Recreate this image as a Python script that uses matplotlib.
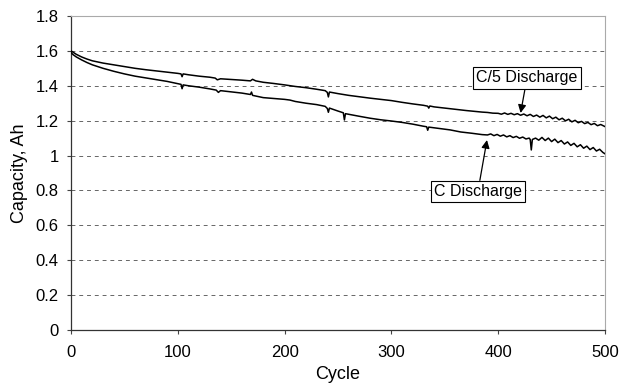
import matplotlib
matplotlib.use("Agg")
import matplotlib.pyplot as plt

plt.rcParams.update({
    "font.family": ["Liberation Sans", "DejaVu Sans"],
    "font.size": 12,
})

# Capacity fade, C/5 discharge
c5_cycle = [0, 2, 5, 10, 15, 20, 30, 40, 50, 60, 70, 80, 90, 100, 103, 104, 105,
            110, 120, 130, 135, 137, 140, 150, 160, 168, 170, 173, 180, 190, 200,
            210, 220, 230, 238, 240, 241, 242, 250, 260, 270, 280, 290, 300, 310,
            320, 330, 334, 335, 336, 340, 350, 360, 370, 380, 385, 390, 395, 400,
            403, 406, 409, 412, 415, 418, 421, 424, 427, 430, 433, 436, 439, 442,
            445, 448, 451, 454, 457, 460, 463, 466, 469, 472, 475, 478, 481, 484,
            487, 490, 493, 496, 500]
c5_cap = [1.600, 1.592, 1.580, 1.565, 1.553, 1.543, 1.530, 1.520, 1.510, 1.500,
          1.492, 1.485, 1.478, 1.471, 1.468, 1.452, 1.468, 1.463, 1.455, 1.449,
          1.444, 1.434, 1.440, 1.436, 1.432, 1.428, 1.437, 1.428, 1.420, 1.413,
          1.405, 1.396, 1.389, 1.380, 1.372, 1.362, 1.336, 1.364, 1.355, 1.345,
          1.337, 1.329, 1.322, 1.315, 1.305, 1.296, 1.288, 1.283, 1.272, 1.284,
          1.279, 1.272, 1.265, 1.258, 1.252, 1.249, 1.247, 1.243, 1.242, 1.237,
          1.244, 1.236, 1.242, 1.234, 1.240, 1.231, 1.238, 1.228, 1.236, 1.224,
          1.232, 1.220, 1.230, 1.216, 1.226, 1.211, 1.220, 1.205, 1.214, 1.199,
          1.208, 1.193, 1.202, 1.188, 1.196, 1.183, 1.190, 1.177, 1.184, 1.171,
          1.178, 1.166]

# Capacity fade, C discharge
c1_cycle = [0, 2, 5, 10, 15, 20, 30, 40, 50, 60, 70, 80, 90, 100, 103, 104, 105,
            110, 120, 130, 136, 138, 140, 150, 160, 168, 169, 170, 180, 190, 200,
            205, 210, 220, 230, 238, 240, 241, 242, 250, 255, 256, 257, 270, 280,
            290, 300, 310, 320, 330, 333, 334, 335, 345, 355, 365, 375, 385, 390,
            393, 396, 399, 402, 405, 408, 411, 414, 417, 420, 423, 426, 429, 430,
            431, 432, 435, 438, 441, 444, 447, 450, 453, 456, 459, 462, 465, 468,
            471, 474, 477, 480, 483, 486, 489, 492, 495, 498, 500]
c1_cap = [1.590, 1.578, 1.565, 1.548, 1.533, 1.520, 1.500, 1.483, 1.468, 1.455,
          1.445, 1.435, 1.425, 1.412, 1.408, 1.383, 1.405, 1.400, 1.392, 1.382,
          1.375, 1.362, 1.372, 1.365, 1.358, 1.350, 1.364, 1.345, 1.332, 1.327,
          1.322, 1.318, 1.310, 1.300, 1.292, 1.282, 1.270, 1.248, 1.272, 1.255,
          1.245, 1.204, 1.240, 1.225, 1.214, 1.205, 1.198, 1.190, 1.180, 1.168,
          1.165, 1.145, 1.163, 1.155, 1.147, 1.135, 1.128, 1.120, 1.118, 1.124,
          1.114, 1.121, 1.111, 1.118, 1.107, 1.114, 1.103, 1.110, 1.099, 1.106,
          1.095, 1.100, 1.092, 1.032, 1.092, 1.100, 1.088, 1.104, 1.086, 1.100,
          1.080, 1.094, 1.074, 1.086, 1.066, 1.078, 1.058, 1.070, 1.050, 1.062,
          1.042, 1.054, 1.034, 1.046, 1.026, 1.036, 1.018, 1.010]

y_ticks = [0, 0.2, 0.4, 0.6, 0.8, 1, 1.2, 1.4, 1.6, 1.8]
y_tick_labels = ["0", "0.2", "0.4", "0.6", "0.8", "1", "1.2", "1.4", "1.6", "1.8"]
x_ticks = [0, 100, 200, 300, 400, 500]

fig = plt.figure(figsize=(6.29, 3.87), dpi=100)
ax = fig.add_axes([0.1129, 0.1473, 0.8489, 0.8114])

ax.plot(c5_cycle, c5_cap, color="black", lw=1.1, zorder=3)
ax.plot(c1_cycle, c1_cap, color="black", lw=1.1, zorder=3)

ax.set_xlim(0, 500)
ax.set_ylim(0, 1.8)
ax.set_xticks(x_ticks)
ax.set_yticks(y_ticks)
ax.set_yticklabels(y_tick_labels)
ax.tick_params(axis="both", direction="out", length=3, width=0.8,
               color="#444444", labelsize=12)
ax.tick_params(axis="x", pad=8)
ax.tick_params(axis="y", pad=6)

for v in y_ticks[1:-1]:
    ax.axhline(v, color="#666666", lw=0.7, ls=(0, (4, 4)), zorder=1)

for side in ("left", "bottom"):
    ax.spines[side].set_color("#333333")
    ax.spines[side].set_linewidth(0.9)
for side in ("top", "right"):
    ax.spines[side].set_color("#aaaaaa")
    ax.spines[side].set_linewidth(0.8)

ax.set_xlabel("Cycle", fontsize=13, labelpad=4)
ax.set_ylabel("Capacity, Ah", fontsize=13, labelpad=5)

box = dict(boxstyle="square,pad=0.2", fc="white", ec="black", lw=0.8)
arrow = dict(arrowstyle="-|>", color="black", lw=0.9, mutation_scale=12,
             shrinkA=0, shrinkB=0)
ax.annotate("C/5 Discharge", xy=(421, 1.244), xytext=(427, 1.445),
            ha="center", va="center", fontsize=11.5, bbox=box, arrowprops=arrow)
ax.annotate("C Discharge", xy=(389.5, 1.089), xytext=(381, 0.794),
            ha="center", va="center", fontsize=11.5, bbox=box, arrowprops=arrow)

fig.savefig("out.png", dpi=100)
